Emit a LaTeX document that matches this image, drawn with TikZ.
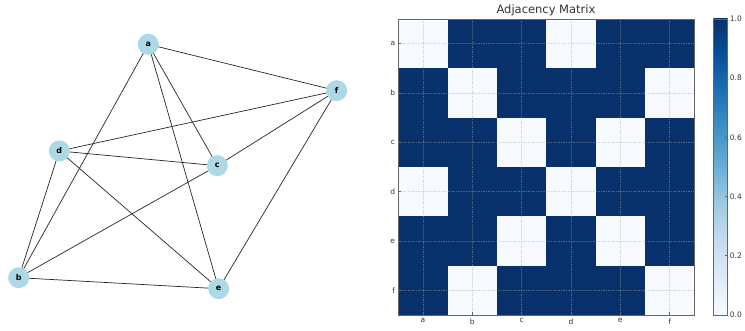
\documentclass[tikz,border=0pt]{standalone}
\usepackage{fontspec}
\setmainfont{DejaVu Sans}
\usetikzlibrary{backgrounds}
\definecolor{nodeblue}{HTML}{ADD8E6}
\definecolor{cell0}{HTML}{F7FBFF}
\definecolor{cell1}{HTML}{08306B}
\definecolor{bl0}{HTML}{F7FBFF}
\definecolor{bl1}{HTML}{DEEBF7}
\definecolor{bl2}{HTML}{C6DBEF}
\definecolor{bl3}{HTML}{9ECAE1}
\definecolor{bl4}{HTML}{6BAED6}
\definecolor{bl5}{HTML}{4292C6}
\definecolor{bl6}{HTML}{2171B5}
\definecolor{bl7}{HTML}{08519C}
\definecolor{bl8}{HTML}{08306B}
\definecolor{spine}{HTML}{666666}
\definecolor{txt}{HTML}{333333}
\begin{document}
\begin{tikzpicture}[x=1pt,y=-1pt,
  vert/.style={circle, fill=nodeblue, minimum size=21pt, inner sep=0pt, font=\bfseries\fontsize{8}{8}\selectfont},
  edge/.style={draw=black!85, line width=0.7pt},
  gridl/.style={draw=gray!70, draw opacity=0.45, line width=0.4pt, dash pattern=on 1.5pt off 1pt},
  ticklab/.style={font=\fontsize{7.5}{7.5}\selectfont, text=txt, inner sep=0pt},
  spinel/.style={draw=spine, line width=0.6pt}]
\useasboundingbox (0,0) rectangle (745,331);
% graph
\node[vert] (a) at (148.3,44.3) {a};
\node[vert] (f) at (336.7,90.7) {f};
\node[vert] (d) at (59.3,151) {d};
\node[vert] (c) at (217.3,165.7) {c};
\node[vert] (b) at (18.7,277.7) {b};
\node[vert] (e) at (218.7,288.7) {e};
\begin{pgfonlayer}{background}
\foreach \u/\v in {a/f,a/b,a/e,a/c,d/f,d/c,d/b,d/e,c/f,c/b,b/e,e/f}
  \draw[edge] (\u.center) -- (\v.center);
\end{pgfonlayer}
% matrix
\def\xo{398.3}\def\yo{19}\def\w{49.33}
\foreach \i/\vals in {0/{0,1,1,0,1,1},1/{1,0,1,1,1,0},2/{1,1,0,1,0,1},3/{0,1,1,0,1,1},4/{1,1,0,1,0,1},5/{1,0,1,1,1,0}}{
  \foreach \v [count=\j from 0] in \vals {
    \fill[cell\v] (\xo+\j*\w,\yo+\i*\w) rectangle (\xo+\j*\w+\w,\yo+\i*\w+\w);
  }
}
\foreach \j in {0,...,5}{
  \draw[gridl] (\xo+\j*\w+0.5*\w,\yo) -- (\xo+\j*\w+0.5*\w,\yo+6*\w);
  \draw[gridl] (\xo,\yo+\j*\w+0.5*\w) -- (\xo+6*\w,\yo+\j*\w+0.5*\w);
}
\draw[spinel] (\xo,\yo) rectangle (\xo+6*\w,\yo+6*\w);
\foreach \l [count=\j from 0] in {a,b,c,d,e,f}{
  \draw[spinel] (\xo+\j*\w+0.5*\w,\yo+6*\w) -- ++(0,-3);
  \draw[spinel] (\xo,\yo+\j*\w+0.5*\w) -- ++(3,0);
  \node[ticklab, anchor=north] (xl\l) at (\xo+\j*\w+0.5*\w,\yo+6*\w+3.5) {\l};
  \node[ticklab, anchor=east] (yl\l) at (\xo-3,\yo+\j*\w+0.5*\w) {\l};
}
\node[font=\fontsize{11.5}{11.5}\selectfont, text=txt, inner sep=0pt] (title) at (546,10) {Adjacency Matrix};
% colorbar
\def\cx{713.3}\def\cw{14.4}\def\cy{315}\def\ch{296}
\foreach \k [evaluate=\k as \kn using int(\k+1)] in {0,...,7}{
  \shade[bottom color=bl\k, top color=bl\kn] (\cx,\cy-\k*\ch/8) rectangle (\cx+\cw,\cy-\k*\ch/8-\ch/8-0.3);
}
\draw[spinel] (\cx,\cy) rectangle (\cx+\cw,\cy-\ch);
\foreach \t/\lab in {0/0.0,1/0.2,2/0.4,3/0.6,4/0.8,5/1.0}{
  \draw[spinel] (\cx+\cw,\cy-\t*\ch/5) -- ++(-2.5,0);
  \node[ticklab, anchor=west] (cb\t) at (\cx+\cw+2,\cy-\t*\ch/5) {\lab};
}
\end{tikzpicture}
\end{document}
